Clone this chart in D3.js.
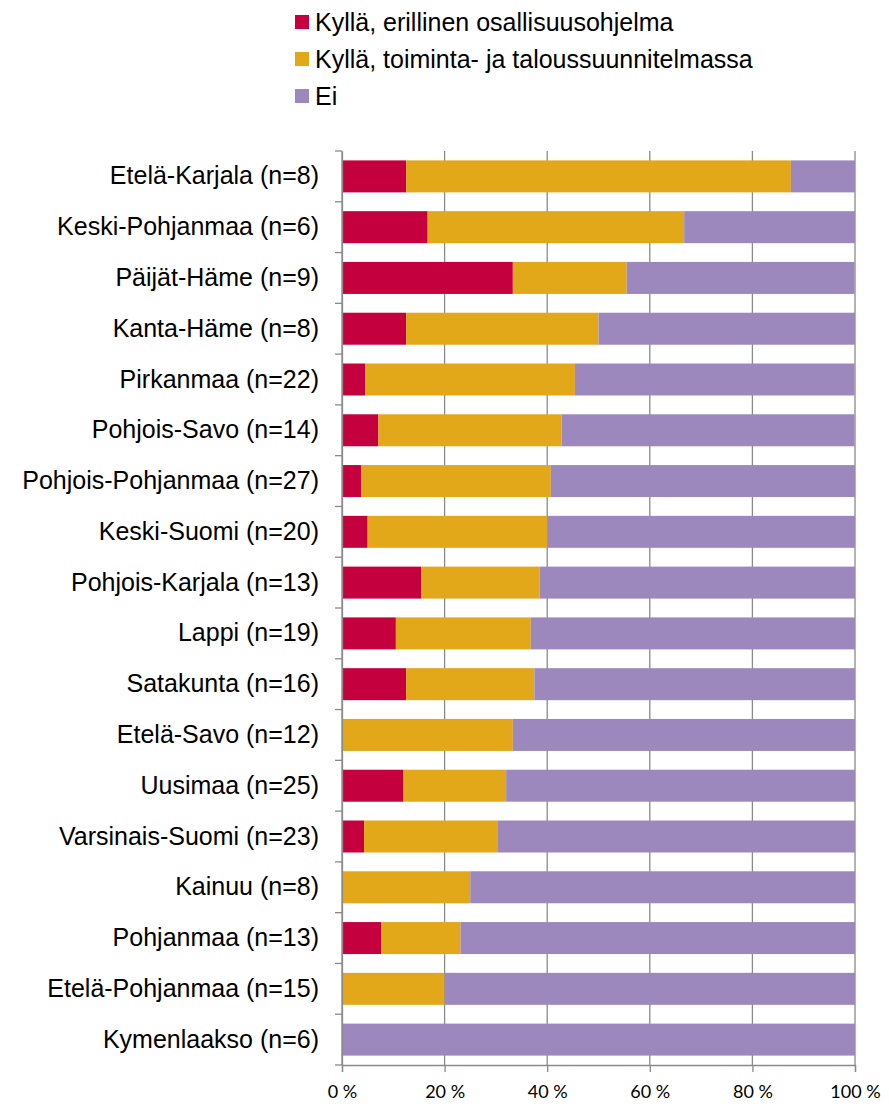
<!DOCTYPE html>
<html>
<head>
<meta charset="utf-8">
<script src="https://cdn.jsdelivr.net/npm/d3@7"></script>
<style>
  html, body { margin: 0; padding: 0; background: #fff; }
  svg { display: block; }
</style>
</head>
<body>
<svg id="chart" width="889" height="1107"></svg>
<script>
// ---- Data ----
const regions = ["Etelä-Karjala", "Keski-Pohjanmaa", "Päijät-Häme", "Kanta-Häme", "Pirkanmaa",
  "Pohjois-Savo", "Pohjois-Pohjanmaa", "Keski-Suomi", "Pohjois-Karjala", "Lappi", "Satakunta",
  "Etelä-Savo", "Uusimaa", "Varsinais-Suomi", "Kainuu", "Pohjanmaa", "Etelä-Pohjanmaa", "Kymenlaakso"];
const counts = [8, 6, 9, 8, 22, 14, 27, 20, 13, 19, 16, 12, 25, 23, 8, 13, 15, 6];
// percentages
const erillinen = [12.5, 16.7, 33.3, 12.5, 4.5, 7.1, 3.7, 5.0, 15.4, 10.5, 12.5, 0, 12.0, 4.3, 0, 7.7, 0, 0];
const tts       = [75.0, 50.0, 22.2, 37.5, 40.9, 35.7, 37.0, 35.0, 23.1, 26.3, 25.0, 33.3, 20.0, 26.1, 25.0, 15.4, 20.0, 0];
const ei        = [12.5, 33.3, 44.4, 50.0, 54.5, 57.1, 59.3, 60.0, 61.5, 63.2, 62.5, 66.7, 68.0, 69.6, 75.0, 76.9, 80.0, 100];
const seriesNames = ["Kyllä, erillinen osallisuusohjelma", "Kyllä, toiminta- ja taloussuunnitelmassa", "Ei"];
const seriesColors = ["#C5003F", "#E3A71A", "#9C88BD"];
const tickValues = [0, 20, 40, 60, 80, 100];

// ---- Build table ----
const labels = regions.map((r, i) => `${r} (n=${counts[i]})`);
const keys = ["a", "b", "c"];
const rows = labels.map((l, i) => ({ label: l, a: erillinen[i], b: tts[i], c: ei[i] }));

const svg = d3.select("#chart");
const margin = { left: 342, top: 151 };
const plotBottom = 1065;

const x = d3.scaleLinear().domain([0, 100]).range([margin.left, 855]);
const y = d3.scaleBand().domain(labels).range([margin.top, plotBottom]).paddingInner(0.37).paddingOuter(0.185);

// gridlines
svg.append("g")
  .selectAll("line")
  .data(tickValues)
  .join("line")
  .attr("x1", d => x(d)).attr("x2", d => x(d))
  .attr("y1", margin.top).attr("y2", plotBottom)
  .attr("stroke", "#8a8a8a").attr("stroke-width", 1.3);

// stacked bars
const stack = d3.stack().keys(keys)(rows);
svg.append("g")
  .selectAll("g")
  .data(stack)
  .join("g")
  .attr("fill", (d, i) => seriesColors[i])
  .selectAll("rect")
  .data(d => d)
  .join("rect")
  .attr("x", d => x(d[0]))
  .attr("width", d => Math.max(0, x(d[1]) - x(d[0])))
  .attr("y", d => y(d.data.label))
  .attr("height", y.bandwidth());

// left axis
const yAxis = d3.axisLeft(y).tickSize(0).tickPadding(23);
const gy = svg.append("g").attr("transform", `translate(${margin.left},0)`).call(yAxis);
gy.select(".domain").attr("stroke", "#8a8a8a").attr("stroke-width", 1.3);
gy.selectAll("text").attr("font-family", "Liberation Sans, Arial, sans-serif")
  .attr("font-size", 25).attr("fill", "#000");
// band-boundary tick marks
const boundaries = d3.range(labels.length + 1).map(i => margin.top + i * (plotBottom - margin.top) / labels.length);
svg.append("g").selectAll("line").data(boundaries).join("line")
  .attr("x1", margin.left - 7).attr("x2", margin.left)
  .attr("y1", d => d).attr("y2", d => d)
  .attr("stroke", "#8a8a8a").attr("stroke-width", 1.3);

// bottom axis
const xAxis = d3.axisBottom(x).tickValues(tickValues).tickSize(7).tickPadding(13)
  .tickFormat(d => d + " %");
const gx = svg.append("g").attr("transform", `translate(0,${plotBottom})`).call(xAxis);
gx.select(".domain").attr("stroke", "#8a8a8a").attr("stroke-width", 1.3);
gx.selectAll(".tick line").attr("stroke", "#8a8a8a").attr("stroke-width", 1.3);
gx.selectAll("text").attr("font-family", "Lato, 'Open Sans', sans-serif")
  .attr("font-size", 18).attr("fill", "#000");

// legend
const legend = svg.append("g").attr("transform", "translate(295,0)");
const legY = [22, 59, 96];
seriesNames.forEach((name, i) => {
  legend.append("rect").attr("x", 0).attr("y", legY[i] - 7).attr("width", 14).attr("height", 14)
    .attr("fill", seriesColors[i]);
  legend.append("text").attr("x", 20).attr("y", legY[i]).attr("dy", "0.36em")
    .attr("font-family", "Liberation Sans, Arial, sans-serif").attr("font-size", 25)
    .attr("fill", "#000").text(name);
});
</script>
</body>
</html>
